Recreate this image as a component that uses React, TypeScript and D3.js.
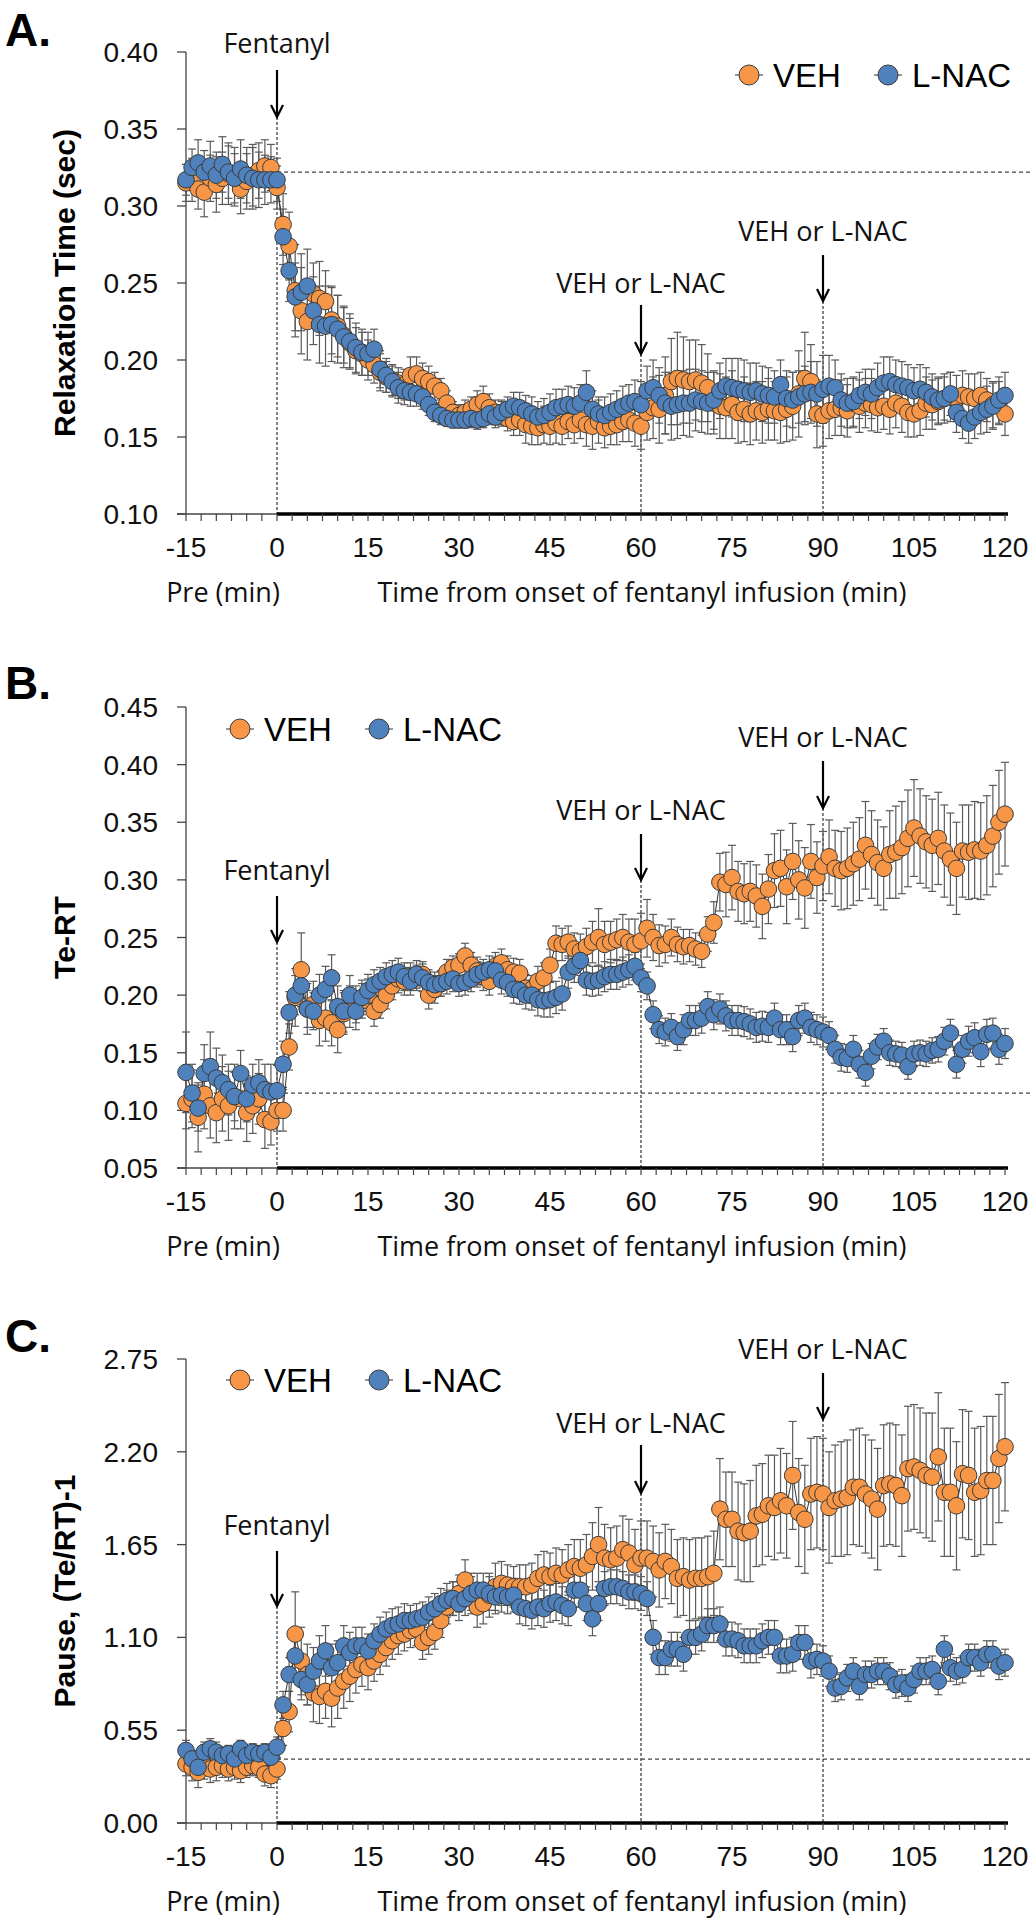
import React from "react";
import * as d3 from "d3";

// ---------- DATA ----------
const minutes = d3.range(-15, 121);

const relaxVeh = [
  0.315, 0.317, 0.311, 0.309, 0.318, 0.314, 0.318, 0.321, 0.319, 0.311, 0.316, 0.320, 0.323, 0.326, 0.325, 0.312,
  0.288, 0.274, 0.245, 0.232, 0.225, 0.243, 0.240, 0.238, 0.226, 0.222,
  0.216, 0.211, 0.206, 0.204, 0.200, 0.197, 0.192, 0.189, 0.187, 0.185,
  0.184, 0.190, 0.191, 0.188, 0.186, 0.183, 0.180, 0.172, 0.166, 0.164,
  0.166, 0.168, 0.171, 0.173, 0.169, 0.166, 0.165, 0.162, 0.160, 0.161,
  0.158, 0.157, 0.156, 0.158, 0.157, 0.159, 0.157, 0.160, 0.158, 0.161,
  0.158, 0.157, 0.160, 0.156, 0.157, 0.158, 0.160, 0.161, 0.159, 0.157,
  0.166, 0.169, 0.168, 0.177, 0.186, 0.188, 0.187, 0.186, 0.187, 0.185,
  0.182, 0.172, 0.170, 0.169, 0.171, 0.166, 0.168, 0.165, 0.167, 0.166,
  0.168, 0.167, 0.166, 0.168, 0.170, 0.178, 0.188, 0.186, 0.165, 0.164,
  0.167, 0.168, 0.169, 0.167, 0.172, 0.170, 0.172, 0.171, 0.169, 0.170,
  0.168, 0.172, 0.170, 0.166, 0.165, 0.167, 0.172, 0.171, 0.173, 0.175,
  0.176, 0.175, 0.177, 0.176, 0.175, 0.177, 0.174, 0.171, 0.172, 0.165,
];
const relaxNac = [
  0.317, 0.325, 0.328, 0.322, 0.326, 0.320, 0.327, 0.322, 0.318, 0.324, 0.320, 0.318, 0.317, 0.317, 0.317, 0.317,
  0.280, 0.258, 0.241, 0.244, 0.248, 0.232, 0.223, 0.222, 0.223, 0.220,
  0.215, 0.212, 0.208, 0.205, 0.204, 0.207, 0.194, 0.190, 0.186, 0.182,
  0.180, 0.179, 0.178, 0.176, 0.171, 0.166, 0.164, 0.162, 0.161, 0.161,
  0.161, 0.162, 0.161, 0.162, 0.165, 0.163, 0.166, 0.168, 0.170, 0.169,
  0.167, 0.165, 0.163, 0.164, 0.166, 0.169, 0.170, 0.171, 0.170, 0.172,
  0.179, 0.168, 0.165, 0.164, 0.166, 0.168, 0.170, 0.172, 0.173, 0.171,
  0.180, 0.182, 0.177, 0.172, 0.170, 0.171, 0.172, 0.172, 0.174, 0.173,
  0.172, 0.174, 0.180, 0.183, 0.182, 0.181, 0.180, 0.179, 0.180, 0.178,
  0.177, 0.176, 0.184, 0.175, 0.174, 0.176, 0.178, 0.179, 0.178, 0.181,
  0.183, 0.182, 0.174, 0.172, 0.173, 0.177, 0.179, 0.178, 0.182, 0.185,
  0.186, 0.184, 0.183, 0.182, 0.180, 0.181, 0.179, 0.176, 0.174, 0.175,
  0.178, 0.166, 0.162, 0.159, 0.163, 0.166, 0.168, 0.170, 0.174, 0.177,
];
const relaxVehErr = [
  0.012, 0.014, 0.013, 0.016, 0.015, 0.018, 0.017, 0.020, 0.019, 0.016, 0.018, 0.020, 0.018, 0.017, 0.015, 0.014,
  0.020, 0.022, 0.030, 0.028, 0.025, 0.020, 0.024, 0.020, 0.022, 0.020,
  0.018, 0.016, 0.015, 0.014, 0.013, 0.012, 0.012, 0.010, 0.010, 0.010,
  0.010, 0.012, 0.011, 0.010, 0.010, 0.009, 0.008, 0.008, 0.007, 0.007,
  0.008, 0.008, 0.009, 0.010, 0.009, 0.008, 0.008, 0.008, 0.009, 0.010,
  0.012, 0.012, 0.011, 0.012, 0.012, 0.013, 0.012, 0.011, 0.012, 0.012,
  0.014, 0.015, 0.014, 0.013, 0.012, 0.013, 0.013, 0.014, 0.015, 0.015,
  0.018, 0.020, 0.022, 0.025, 0.028, 0.030, 0.028, 0.027, 0.026, 0.025,
  0.022, 0.020, 0.021, 0.020, 0.022, 0.020, 0.021, 0.020, 0.019, 0.020,
  0.020, 0.019, 0.020, 0.021, 0.022, 0.028, 0.030, 0.024, 0.022, 0.020,
  0.018, 0.017, 0.018, 0.017, 0.016, 0.017, 0.016, 0.017, 0.016, 0.015,
  0.016, 0.016, 0.017, 0.016, 0.015, 0.016, 0.017, 0.016, 0.015, 0.016,
  0.016, 0.015, 0.016, 0.015, 0.016, 0.015, 0.014, 0.015, 0.014, 0.014,
];
const relaxNacErr = [
  0.010, 0.012, 0.015, 0.014, 0.016, 0.015, 0.018, 0.017, 0.016, 0.019, 0.018, 0.020, 0.018, 0.016, 0.015, 0.014,
  0.018, 0.020, 0.022, 0.025, 0.024, 0.022, 0.025, 0.026, 0.024, 0.022,
  0.020, 0.018, 0.016, 0.015, 0.014, 0.013, 0.012, 0.011, 0.010, 0.010,
  0.009, 0.009, 0.008, 0.008, 0.007, 0.006, 0.006, 0.005, 0.005, 0.005,
  0.005, 0.006, 0.006, 0.006, 0.007, 0.007, 0.008, 0.008, 0.009, 0.010,
  0.010, 0.011, 0.010, 0.011, 0.012, 0.012, 0.011, 0.012, 0.012, 0.012,
  0.014, 0.012, 0.011, 0.012, 0.012, 0.012, 0.013, 0.012, 0.014, 0.015,
  0.016, 0.018, 0.018, 0.020, 0.022, 0.022, 0.021, 0.022, 0.020, 0.020,
  0.020, 0.019, 0.018, 0.018, 0.019, 0.020, 0.020, 0.019, 0.018, 0.018,
  0.018, 0.017, 0.016, 0.018, 0.018, 0.017, 0.018, 0.020, 0.021, 0.022,
  0.020, 0.018, 0.017, 0.016, 0.016, 0.015, 0.015, 0.016, 0.016, 0.017,
  0.016, 0.016, 0.016, 0.015, 0.015, 0.016, 0.016, 0.015, 0.015, 0.014,
  0.014, 0.013, 0.013, 0.013, 0.014, 0.014, 0.015, 0.015, 0.015, 0.015,
];

const teVeh = [
  0.106, 0.110, 0.094, 0.114, 0.104, 0.098, 0.110, 0.104, 0.112, 0.110, 0.098, 0.104, 0.110, 0.092, 0.090, 0.100,
  0.100, 0.155, 0.198, 0.222, 0.188, 0.192, 0.178, 0.180, 0.176, 0.170,
  0.184, 0.190, 0.192, 0.195, 0.200, 0.186, 0.192, 0.200, 0.208, 0.214,
  0.212, 0.216, 0.215, 0.218, 0.200, 0.205, 0.210, 0.220, 0.224, 0.226,
  0.234, 0.226, 0.221, 0.216, 0.212, 0.225, 0.228, 0.222, 0.220, 0.219,
  0.206, 0.205, 0.212, 0.215, 0.226, 0.245, 0.244, 0.246, 0.240, 0.238,
  0.242, 0.246, 0.250, 0.244, 0.246, 0.248, 0.250, 0.246, 0.244, 0.247,
  0.258, 0.250, 0.243, 0.244, 0.250, 0.244, 0.242, 0.243, 0.240, 0.238,
  0.253, 0.263, 0.298, 0.296, 0.302, 0.290, 0.288, 0.290, 0.286, 0.277,
  0.292, 0.308, 0.310, 0.294, 0.316, 0.300, 0.293, 0.316, 0.302, 0.312,
  0.320, 0.310, 0.308, 0.310, 0.314, 0.318, 0.330, 0.322, 0.315, 0.310,
  0.322, 0.324, 0.328, 0.336, 0.345, 0.338, 0.333, 0.330, 0.336, 0.325,
  0.318, 0.310, 0.325, 0.324, 0.326, 0.325, 0.330, 0.338, 0.350, 0.357,
];
const teNac = [
  0.133, 0.115, 0.102, 0.132, 0.138, 0.128, 0.124, 0.118, 0.112, 0.132, 0.110, 0.122, 0.124, 0.118, 0.116, 0.117,
  0.140, 0.185, 0.200, 0.208, 0.188, 0.186, 0.200, 0.205, 0.215, 0.190,
  0.186, 0.200, 0.186, 0.198, 0.204, 0.209, 0.212, 0.216, 0.218, 0.220,
  0.216, 0.212, 0.218, 0.215, 0.211, 0.209, 0.210, 0.212, 0.214, 0.210,
  0.211, 0.214, 0.218, 0.220, 0.222, 0.221, 0.213, 0.211, 0.205, 0.204,
  0.200, 0.200, 0.196, 0.195, 0.196, 0.198, 0.201, 0.220, 0.225, 0.230,
  0.213, 0.212, 0.213, 0.216, 0.218, 0.218, 0.220, 0.222, 0.225, 0.215,
  0.208, 0.183, 0.170, 0.168, 0.172, 0.164, 0.170, 0.178, 0.178, 0.180,
  0.190, 0.183, 0.188, 0.182, 0.178, 0.178, 0.177, 0.175, 0.172, 0.173,
  0.172, 0.180, 0.170, 0.170, 0.164, 0.178, 0.180, 0.172, 0.170, 0.168,
  0.165, 0.153, 0.146, 0.145, 0.153, 0.140, 0.133, 0.147, 0.155, 0.160,
  0.150, 0.149, 0.148, 0.138, 0.149, 0.150, 0.149, 0.152, 0.153, 0.160,
  0.167, 0.140, 0.153, 0.160, 0.163, 0.151, 0.166, 0.167, 0.153, 0.158,
];
const teVehErr = [
  0.022, 0.025, 0.030, 0.030, 0.028, 0.026, 0.028, 0.030, 0.028, 0.026, 0.025, 0.024, 0.022, 0.025, 0.020, 0.018,
  0.018, 0.020, 0.025, 0.032, 0.022, 0.020, 0.022, 0.020, 0.020, 0.020,
  0.018, 0.018, 0.016, 0.015, 0.014, 0.013, 0.012, 0.012, 0.012, 0.012,
  0.012, 0.012, 0.011, 0.011, 0.012, 0.012, 0.011, 0.011, 0.010, 0.010,
  0.011, 0.011, 0.012, 0.012, 0.012, 0.012, 0.012, 0.012, 0.012, 0.012,
  0.012, 0.012, 0.013, 0.013, 0.014, 0.015, 0.014, 0.014, 0.014, 0.015,
  0.016, 0.018, 0.025, 0.020, 0.018, 0.018, 0.020, 0.020, 0.022, 0.024,
  0.025, 0.020, 0.018, 0.016, 0.016, 0.015, 0.015, 0.014, 0.014, 0.014,
  0.015, 0.018, 0.025, 0.028, 0.028, 0.026, 0.026, 0.026, 0.027, 0.028,
  0.030, 0.032, 0.033, 0.032, 0.033, 0.034, 0.035, 0.032, 0.031, 0.030,
  0.032, 0.033, 0.034, 0.035, 0.036, 0.036, 0.038, 0.038, 0.037, 0.036,
  0.038, 0.040, 0.040, 0.042, 0.042, 0.041, 0.040, 0.040, 0.040, 0.040,
  0.040, 0.040, 0.040, 0.041, 0.042, 0.042, 0.043, 0.044, 0.045, 0.045,
];
const teNacErr = [
  0.035, 0.025, 0.020, 0.025, 0.030, 0.026, 0.024, 0.022, 0.021, 0.020, 0.020, 0.018, 0.020, 0.022, 0.024, 0.022,
  0.020, 0.018, 0.017, 0.018, 0.016, 0.016, 0.018, 0.020, 0.020, 0.018,
  0.018, 0.017, 0.016, 0.015, 0.014, 0.013, 0.012, 0.012, 0.012, 0.012,
  0.012, 0.012, 0.012, 0.012, 0.011, 0.011, 0.011, 0.011, 0.011, 0.011,
  0.011, 0.011, 0.011, 0.011, 0.012, 0.012, 0.012, 0.012, 0.012, 0.012,
  0.012, 0.013, 0.014, 0.014, 0.015, 0.014, 0.014, 0.014, 0.014, 0.013,
  0.013, 0.013, 0.013, 0.013, 0.013, 0.013, 0.013, 0.013, 0.012, 0.012,
  0.012, 0.012, 0.012, 0.012, 0.012, 0.012, 0.013, 0.013, 0.013, 0.013,
  0.013, 0.013, 0.013, 0.013, 0.013, 0.013, 0.013, 0.013, 0.013, 0.013,
  0.013, 0.013, 0.013, 0.013, 0.013, 0.013, 0.013, 0.013, 0.013, 0.013,
  0.012, 0.012, 0.012, 0.012, 0.012, 0.012, 0.012, 0.011, 0.011, 0.011,
  0.011, 0.011, 0.011, 0.011, 0.011, 0.011, 0.011, 0.011, 0.011, 0.012,
  0.012, 0.012, 0.012, 0.013, 0.013, 0.013, 0.013, 0.013, 0.013, 0.013,
];

const pauseVeh = [
  0.35, 0.33, 0.30, 0.34, 0.32, 0.33, 0.34, 0.32, 0.33, 0.31, 0.33, 0.34, 0.33, 0.29, 0.28, 0.32,
  0.56, 0.66, 1.12, 0.96, 0.88, 0.77, 0.75, 0.78, 0.74, 0.80,
  0.84, 0.87, 0.91, 0.94, 0.92, 0.96, 1.00, 1.04, 1.08, 1.11,
  1.12, 1.14, 1.15, 1.07, 1.10, 1.13, 1.20, 1.28, 1.33, 1.36,
  1.44, 1.36, 1.28, 1.30, 1.35, 1.40, 1.42, 1.41, 1.40, 1.40,
  1.40, 1.41, 1.45, 1.47, 1.46, 1.48, 1.47, 1.50, 1.52, 1.51,
  1.53, 1.58, 1.65, 1.57, 1.56, 1.57, 1.62, 1.60, 1.53, 1.57,
  1.57, 1.55, 1.50, 1.55, 1.52, 1.45, 1.46, 1.44, 1.45, 1.45,
  1.46, 1.48, 1.86, 1.80, 1.80, 1.73, 1.72, 1.73, 1.82, 1.83,
  1.88, 1.87, 1.91, 1.88, 2.06, 1.84, 1.80, 1.95, 1.96, 1.95,
  1.87, 1.91, 1.92, 1.93, 1.99, 1.99, 1.95, 1.92, 1.86, 2.00,
  2.01, 2.00, 1.94, 2.10, 2.11, 2.09, 2.06, 2.05, 2.17, 1.96,
  1.96, 1.88, 2.07, 2.06, 1.96, 1.97, 2.03, 2.03, 2.16, 2.23,
];
const pauseNac = [
  0.43, 0.38, 0.33, 0.42, 0.44, 0.42, 0.40, 0.41, 0.38, 0.44, 0.40, 0.42, 0.41, 0.42, 0.39, 0.45,
  0.70, 0.88, 0.99, 0.85, 0.82, 0.90, 0.96, 1.02, 0.92, 0.95,
  1.05, 1.01, 1.05, 1.05, 1.02, 1.08, 1.12, 1.15, 1.17, 1.18,
  1.20, 1.20, 1.21, 1.22, 1.25, 1.27, 1.30, 1.32, 1.33, 1.30,
  1.33, 1.36, 1.38, 1.38, 1.36, 1.34, 1.35, 1.34, 1.35, 1.28,
  1.27, 1.26, 1.28, 1.27, 1.30, 1.31, 1.29, 1.27, 1.38, 1.38,
  1.30, 1.21, 1.30, 1.39, 1.40, 1.40, 1.39, 1.37, 1.37, 1.36,
  1.33, 1.10, 0.98, 0.98, 1.03, 1.03, 1.00, 1.10, 1.10, 1.12,
  1.17, 1.17, 1.18, 1.09, 1.09, 1.08, 1.05, 1.05, 1.05, 1.08,
  1.10, 1.10, 0.99, 0.99, 1.00, 1.07, 1.07, 0.96, 0.97, 0.96,
  0.90, 0.80, 0.81, 0.86, 0.90, 0.81, 0.88, 0.88, 0.90, 0.90,
  0.87, 0.82, 0.83, 0.80, 0.85, 0.90, 0.90, 0.91, 0.84, 1.03,
  0.92, 0.90, 0.91, 0.98, 0.98, 0.95, 1.00, 1.00, 0.93, 0.95,
];
const pauseVehErr = [
  0.07, 0.08, 0.09, 0.08, 0.08, 0.08, 0.07, 0.07, 0.07, 0.07, 0.06, 0.06, 0.06, 0.07, 0.07, 0.06,
  0.10, 0.12, 0.25, 0.20, 0.18, 0.17, 0.16, 0.16, 0.17, 0.18,
  0.16, 0.15, 0.14, 0.13, 0.13, 0.12, 0.12, 0.11, 0.11, 0.11,
  0.10, 0.10, 0.10, 0.10, 0.10, 0.10, 0.10, 0.10, 0.10, 0.11,
  0.12, 0.12, 0.12, 0.12, 0.13, 0.14, 0.13, 0.12, 0.12, 0.13,
  0.13, 0.13, 0.14, 0.14, 0.14, 0.15, 0.15, 0.15, 0.16, 0.17,
  0.18, 0.20, 0.22, 0.20, 0.19, 0.19, 0.20, 0.20, 0.21, 0.22,
  0.22, 0.21, 0.22, 0.22, 0.22, 0.23, 0.23, 0.24, 0.24, 0.24,
  0.24, 0.25, 0.30, 0.28, 0.28, 0.29, 0.29, 0.30, 0.30, 0.30,
  0.30, 0.31, 0.31, 0.31, 0.32, 0.32, 0.32, 0.33, 0.33, 0.33,
  0.33, 0.33, 0.34, 0.34, 0.34, 0.35, 0.35, 0.35, 0.36, 0.36,
  0.36, 0.36, 0.36, 0.37, 0.37, 0.37, 0.37, 0.38, 0.38, 0.38,
  0.38, 0.38, 0.38, 0.38, 0.38, 0.38, 0.38, 0.38, 0.38, 0.38,
];
const pauseNacErr = [
  0.06, 0.05, 0.05, 0.06, 0.06, 0.06, 0.05, 0.05, 0.05, 0.05, 0.05, 0.05, 0.05, 0.05, 0.05, 0.06,
  0.08, 0.10, 0.12, 0.12, 0.12, 0.14, 0.15, 0.15, 0.14, 0.13,
  0.12, 0.12, 0.11, 0.11, 0.10, 0.10, 0.10, 0.10, 0.10, 0.10,
  0.10, 0.09, 0.09, 0.09, 0.09, 0.09, 0.09, 0.10, 0.10, 0.10,
  0.10, 0.10, 0.10, 0.10, 0.10, 0.10, 0.10, 0.10, 0.10, 0.10,
  0.10, 0.11, 0.11, 0.11, 0.11, 0.11, 0.11, 0.10, 0.10, 0.10,
  0.10, 0.10, 0.10, 0.10, 0.10, 0.10, 0.10, 0.10, 0.10, 0.10,
  0.10, 0.10, 0.10, 0.10, 0.10, 0.10, 0.10, 0.10, 0.10, 0.10,
  0.10, 0.10, 0.10, 0.10, 0.10, 0.10, 0.10, 0.10, 0.10, 0.10,
  0.10, 0.10, 0.10, 0.10, 0.10, 0.10, 0.10, 0.10, 0.09, 0.09,
  0.09, 0.08, 0.08, 0.08, 0.08, 0.08, 0.08, 0.08, 0.08, 0.08,
  0.08, 0.08, 0.08, 0.08, 0.08, 0.08, 0.08, 0.08, 0.08, 0.08,
  0.08, 0.08, 0.08, 0.08, 0.08, 0.08, 0.08, 0.08, 0.08, 0.08,
];

const xTickLabels = [-15, 0, 15, 30, 45, 60, 75, 90, 105, 120];
const relaxTicks = [0.1, 0.15, 0.2, 0.25, 0.3, 0.35, 0.4];
const teTicks = [0.05, 0.1, 0.15, 0.2, 0.25, 0.3, 0.35, 0.4, 0.45];
const pauseTicks = [0, 0.55, 1.1, 1.65, 2.2, 2.75];
const seriesNames = ["VEH", "L-NAC"];
const baselines = [0.322, 0.115, 0.379];
const eventMinutes = [0, 60, 90];
const eventLabels = ["Fentanyl", "VEH or L-NAC", "VEH or L-NAC"];
const panelLetters = ["A.", "B.", "C."];
const yTitles = ["Relaxation Time (sec)", "Te-RT", "Pause, (Te/RT)-1"];

// ---------- STYLE / LAYOUT ----------
const ORANGE = "#F79646";
const BLUE = "#4F81BD";
const NUM_FONT = "'Liberation Sans', Arial, Helvetica, sans-serif";
const ANN_FONT = "'Open Sans', 'Noto Sans', sans-serif";
const X0 = 186;
const X1 = 1005;

const panels = [
  {
    letter: panelLetters[0], title: yTitles[0], veh: relaxVeh, nac: relaxNac, vehErr: relaxVehErr, nacErr: relaxNacErr,
    domain: [0.1, 0.4], ticks: relaxTicks, yTop: 52, yBottom: 514, letterY: 46, legendX: 749, legendY: 75,
    base: baselines[0],
    ann: [
      { t: 53, a0: 70, a1: 117 },
      { t: 293, a0: 305, a1: 354 },
      { t: 241, a0: 255, a1: 301 },
    ],
  },
  {
    letter: panelLetters[1], title: yTitles[1], veh: teVeh, nac: teNac, vehErr: teVehErr, nacErr: teNacErr,
    domain: [0.05, 0.45], ticks: teTicks, yTop: 707, yBottom: 1168, letterY: 699, legendX: 240, legendY: 729,
    base: baselines[1],
    ann: [
      { t: 880, a0: 896, a1: 942 },
      { t: 820, a0: 834, a1: 880 },
      { t: 747, a0: 761, a1: 808 },
    ],
  },
  {
    letter: panelLetters[2], title: yTitles[2], veh: pauseVeh, nac: pauseNac, vehErr: pauseVehErr, nacErr: pauseNacErr,
    domain: [0, 2.75], ticks: pauseTicks, yTop: 1359, yBottom: 1823, letterY: 1352, legendX: 240, legendY: 1380,
    base: baselines[2],
    ann: [
      { t: 1535, a0: 1551, a1: 1606 },
      { t: 1433, a0: 1445, a1: 1493 },
      { t: 1359, a0: 1373, a1: 1419 },
    ],
  },
];

function Arrow({ x, y0, y1 }: { x: number; y0: number; y1: number }) {
  return (
    <g stroke="#000" strokeWidth={2.2} fill="none">
      <line x1={x} y1={y0} x2={x} y2={y1 - 1} />
      <polyline points={`${x - 6},${y1 - 12} ${x},${y1} ${x + 6},${y1 - 12}`} strokeLinejoin="miter" />
    </g>
  );
}

function Panel({ p }: { p: any }) {
  const x = d3.scaleLinear().domain([-15, 120]).range([X0, X1]);
  const y = d3.scaleLinear().domain(p.domain).range([p.yBottom, p.yTop]);
  const minorTicks = d3.range(-15, 120.01, 2.5);
  const line = d3
    .line<number>()
    .x((_, i) => x(minutes[i]))
    .y((d) => y(d));
  const series = [
    { vals: p.veh, err: p.vehErr, color: ORANGE },
    { vals: p.nac, err: p.nacErr, color: BLUE },
  ];
  const cap = 4;
  const midY = (p.yTop + p.yBottom) / 2;
  return (
    <g>
      <text x={5} y={p.letterY} fontFamily={NUM_FONT} fontWeight="bold" fontSize={46} fill="#000">
        {p.letter}
      </text>
      <text
        transform={`translate(64,${midY}) rotate(-90)`}
        textAnchor="middle"
        dominantBaseline="central"
        fontFamily={NUM_FONT}
        fontWeight="bold"
        fontSize={30}
        fill="#000"
      >
        {p.title}
      </text>
      <line x1={X0} x2={X0} y1={p.yTop} y2={p.yBottom} stroke="#444" strokeWidth={1.3} />
      {p.ticks.map((t: number) => (
        <g key={t}>
          <line x1={X0 - 9} x2={X0} y1={y(t)} y2={y(t)} stroke="#444" strokeWidth={1.3} />
          <text x={158} y={y(t) + 10} textAnchor="end" fontFamily={NUM_FONT} fontSize={28} fill="#111">
            {t.toFixed(2)}
          </text>
        </g>
      ))}
      <line x1={X0} x2={1030} y1={y(p.base)} y2={y(p.base)} stroke="#444" strokeWidth={1.2} strokeDasharray="4,3" />
      {eventMinutes.map((m, i) => (
        <line key={m} x1={x(m)} x2={x(m)} y1={p.ann[i].a1} y2={p.yBottom} stroke="#333" strokeWidth={1.2} strokeDasharray="3,2" />
      ))}
      {series.map((s, si) => (
        <g key={si} stroke="#5a5a5a" strokeWidth={1.2}>
          {s.vals.map((v: number, i: number) => {
            const xx = x(minutes[i]);
            const hi = y(v + s.err[i]);
            const lo = y(v - s.err[i]);
            return (
              <g key={i}>
                <line x1={xx} x2={xx} y1={hi} y2={lo} />
                <line x1={xx - cap} x2={xx + cap} y1={hi} y2={hi} />
                <line x1={xx - cap} x2={xx + cap} y1={lo} y2={lo} />
              </g>
            );
          })}
        </g>
      ))}
      {series.map((s, si) => (
        <path key={si} d={line(s.vals) || ""} fill="none" stroke="#333" strokeWidth={1} />
      ))}
      {series.map((s, si) => (
        <g key={si} fill={s.color} stroke="#3a3a3a" strokeWidth={1}>
          {s.vals.map((v: number, i: number) => (
            <circle key={i} cx={x(minutes[i])} cy={y(v)} r={8.3} />
          ))}
        </g>
      ))}
      <line x1={X0 - 9} x2={x(0)} y1={p.yBottom} y2={p.yBottom} stroke="#444" strokeWidth={1.3} />
      <line x1={x(0)} x2={X1 + 3} y1={p.yBottom} y2={p.yBottom} stroke="#000" strokeWidth={3.5} />
      {minorTicks.map((m) => (
        <line key={m} x1={x(m)} x2={x(m)} y1={p.yBottom} y2={p.yBottom + 7} stroke="#444" strokeWidth={1.2} />
      ))}
      {xTickLabels.map((m) => (
        <text key={m} x={x(m)} y={p.yBottom + 43} textAnchor="middle" fontFamily={NUM_FONT} fontSize={28} fill="#111">
          {m}
        </text>
      ))}
      <text x={223} y={p.yBottom + 88} textAnchor="middle" fontFamily={ANN_FONT} fontSize={27} fill="#111">
        Pre (min)
      </text>
      <text x={642} y={p.yBottom + 88} textAnchor="middle" fontFamily={ANN_FONT} fontSize={27} fill="#111">
        Time from onset of fentanyl infusion (min)
      </text>
      {eventMinutes.map((m, i) => (
        <g key={m}>
          <text x={x(m)} y={p.ann[i].t} textAnchor="middle" fontFamily={ANN_FONT} fontSize={27} fill="#111">
            {eventLabels[i]}
          </text>
          <Arrow x={x(m)} y0={p.ann[i].a0} y1={p.ann[i].a1} />
        </g>
      ))}
      {seriesNames.map((name, i) => {
        const lx = p.legendX + i * 139;
        return (
          <g key={name}>
            <line x1={lx - 14} x2={lx + 14} y1={p.legendY} y2={p.legendY} stroke="#333" strokeWidth={1} />
            <circle cx={lx} cy={p.legendY} r={10} fill={i === 0 ? ORANGE : BLUE} stroke="#3a3a3a" strokeWidth={1} />
            <text x={lx + 24} y={p.legendY + 12} fontFamily={NUM_FONT} fontSize={33} fill="#000">
              {name}
            </text>
          </g>
        );
      })}
    </g>
  );
}

export default function App() {
  return (
    <div>
      <style>{`body{margin:0;background:#fff}`}</style>
      <svg width={1035} height={1920} viewBox="0 0 1035 1920" style={{ display: "block" }}>
        <rect x={0} y={0} width={1035} height={1920} fill="#fff" />
        {panels.map((p, i) => (
          <Panel key={i} p={p} />
        ))}
      </svg>
    </div>
  );
}
